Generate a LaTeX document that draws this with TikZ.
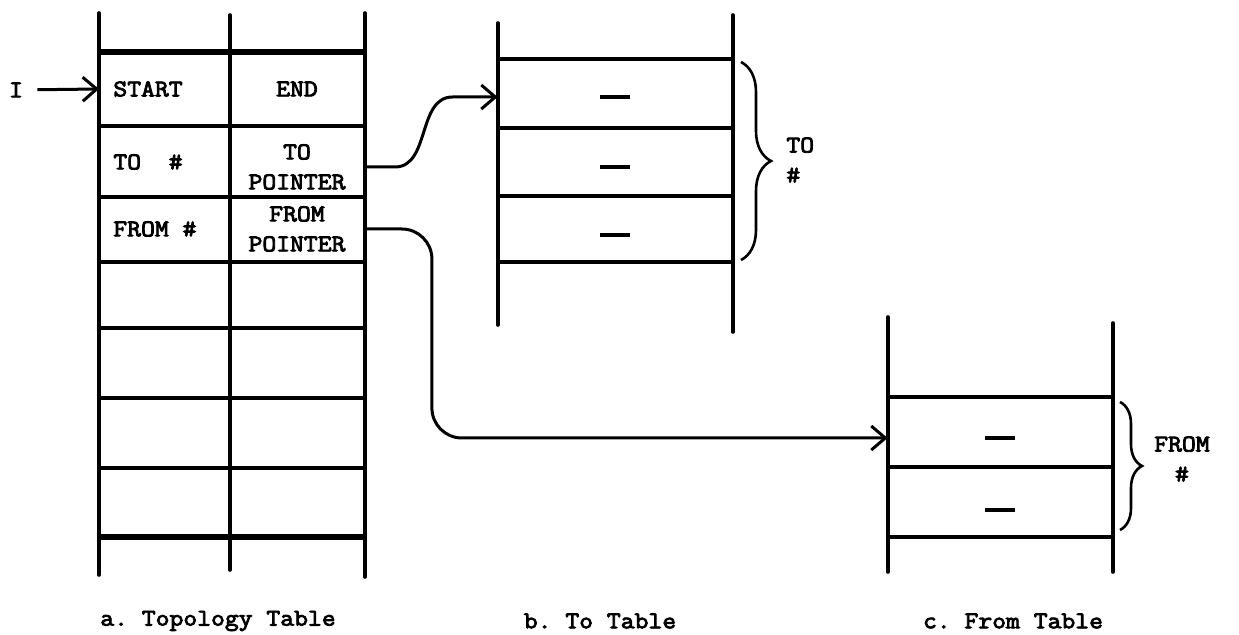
\documentclass[tikz,border=0pt]{standalone}
\usepackage{fontspec}
\setmonofont{Latin Modern Mono}[FakeBold=3.5, FakeStretch=1.12]
\usetikzlibrary{arrows.meta,calc,decorations.pathreplacing}
\newcommand{\slotdash}{\rule{15pt}{2pt}}
\tikzset{
  ln/.style={line width=1.8pt, line cap=round},
  thk/.style={line width=3.4pt},
  arr/.style={-{Straight Barb[length=7pt,width=12pt]}, line width=1.5pt},
  brc/.style={decorate, decoration={brace, amplitude=#1}, line width=1.3pt},
  txt/.style={font=\ttfamily\fontsize{12}{15}\selectfont, inner sep=0pt},
  lcell/.style={txt, anchor=west, inner xsep=7pt},
  rcell/.style={txt, minimum width=67.5pt, minimum height=33pt, align=center},
  slot/.style={minimum height=33pt, inner sep=0pt},
}
\begin{document}
\begin{tikzpicture}[x=0.5pt, y=-0.5pt]
  \useasboundingbox (0,0) rectangle (1239,635);
  % a. topology table
  \foreach \xx/\ya/\yb in {99/13/575, 230/15/570, 365/13/577}
    \draw[ln] (\xx,\ya) -- (\xx,\yb);
  \foreach \yy in {126,197,262,328,398,468} \draw[ln] (99,\yy) -- (365,\yy);
  \foreach \yy in {52,537} \draw[thk] (99,\yy) -- (365,\yy);
  \node[lcell] (start) at (99,89) {START};
  \node[rcell] (end) at (297,89) {END};
  \node[lcell] (tonum) at (99,162) {TO~~\#};
  \node[rcell] (toptr) at (297,167) {TO\\POINTER};
  \node[lcell] (fromnum) at (99,229) {FROM \#};
  \node[rcell] (fromptr) at (297,229) {FROM\\POINTER};
  \node[txt, inner xsep=7pt] (in) at (16,90) {I};
  \draw[arr] (in) -- (start.west);
  % b. to table
  \foreach \xx/\ya/\yb in {498/23/325, 733/15/332}
    \draw[ln] (\xx,\ya) -- (\xx,\yb);
  \foreach \yy in {59,128,196,262} \draw[ln] (498,\yy) -- (733,\yy);
  \foreach \nm/\yy in {b1/97, b2/167, b3/235}
    \node[slot, minimum width=117pt] (\nm) at (615,\yy) {\slotdash};
  \draw[brc=15pt] (741,62) -- (741,260);
  \node[txt, anchor=west, align=left] (tocount) at (786,160) {TO\\\#};
  % c. from table
  \foreach \xx/\ya/\yb in {888/317/572, 1113/323/572}
    \draw[ln] (\xx,\ya) -- (\xx,\yb);
  \foreach \yy in {397,467,537} \draw[ln] (888,\yy) -- (1113,\yy);
  \foreach \nm/\yy in {c1/438, c2/510}
    \node[slot, minimum width=112pt] (\nm) at (1000,\yy) {\slotdash};
  \draw[brc=11pt] (1120,402) -- (1120,530);
  \node[txt, align=center] (fromcount) at (1182,459) {FROM\\\#};
  % pointers
  \draw[arr] (toptr.east) -- ++(30,0) to[out=0, in=180] ($(b1.west)+(-45,0)$) -- (b1.west);
  \draw[arr, rounded corners=15pt] (fromptr.east) -- ++(67,0) |- (c1.west);
  % captions
  \node[txt] (capa) at (218,621) {a. Topology Table};
  \node[txt] (capb) at (600,621) {b. To Table};
  \node[txt] (capc) at (1013,621) {c. From Table};
\end{tikzpicture}
\end{document}
